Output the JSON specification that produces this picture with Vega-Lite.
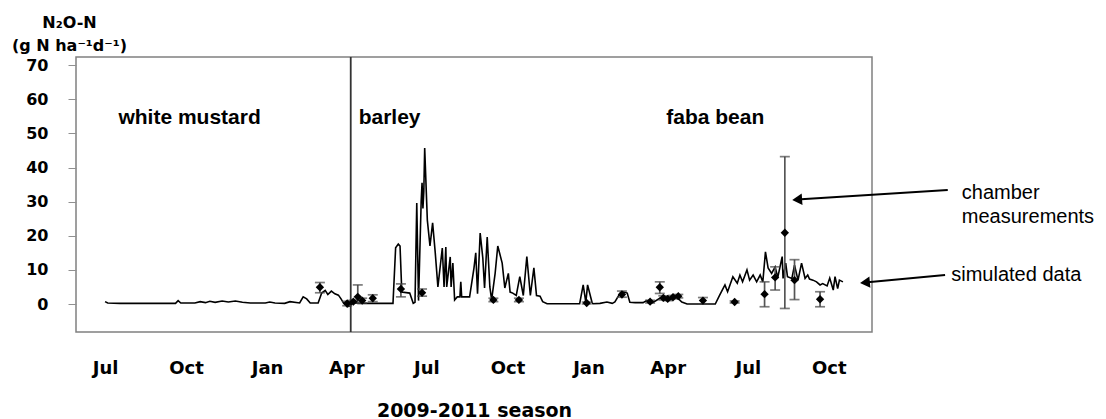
{
  "$schema": "https://vega.github.io/schema/vega-lite/v6.json",
  "width": 796,
  "height": 275,
  "autosize": "none",
  "padding": {"left": 76, "top": 57, "right": 234, "bottom": 87},
  "background": "white",
  "config": {
    "view": {"stroke": "#808080", "strokeWidth": 1.5},
    "font": "Liberation Sans"
  },
  "datasets": {
    "one": [{}],
    "sim": [
      {"date": "2009-07-01", "v": 0.7}, {"date": "2009-07-04", "v": 0.3}, {"date": "2009-07-18", "v": 0.2},
      {"date": "2009-09-19", "v": 0.2}, {"date": "2009-09-22", "v": 1.0}, {"date": "2009-09-25", "v": 0.3},
      {"date": "2009-10-11", "v": 0.3}, {"date": "2009-10-17", "v": 0.7}, {"date": "2009-10-23", "v": 0.4},
      {"date": "2009-10-28", "v": 0.8}, {"date": "2009-11-03", "v": 0.5}, {"date": "2009-11-11", "v": 0.9},
      {"date": "2009-11-18", "v": 0.6}, {"date": "2009-11-26", "v": 0.9}, {"date": "2009-12-04", "v": 0.5},
      {"date": "2009-12-13", "v": 0.3}, {"date": "2009-12-30", "v": 0.3}, {"date": "2010-01-04", "v": 0.6},
      {"date": "2010-01-10", "v": 0.3}, {"date": "2010-01-21", "v": 0.2}, {"date": "2010-01-27", "v": 0.7},
      {"date": "2010-02-07", "v": 0.3}, {"date": "2010-02-11", "v": 2.1}, {"date": "2010-02-15", "v": 1.5},
      {"date": "2010-02-19", "v": 0.3}, {"date": "2010-02-28", "v": 0.3}, {"date": "2010-03-04", "v": 3.2},
      {"date": "2010-03-08", "v": 4.0}, {"date": "2010-03-11", "v": 2.8}, {"date": "2010-03-15", "v": 3.8},
      {"date": "2010-03-19", "v": 3.0}, {"date": "2010-03-23", "v": 2.6}, {"date": "2010-03-26", "v": 1.5},
      {"date": "2010-03-29", "v": 0.2}, {"date": "2010-04-02", "v": -0.8}, {"date": "2010-04-05", "v": -0.5},
      {"date": "2010-04-09", "v": 0.5}, {"date": "2010-04-14", "v": 0.2}, {"date": "2010-05-24", "v": 0.2},
      {"date": "2010-05-27", "v": 16.5}, {"date": "2010-05-30", "v": 17.6}, {"date": "2010-06-01", "v": 17.0},
      {"date": "2010-06-03", "v": 3.5}, {"date": "2010-06-12", "v": 3.2}, {"date": "2010-06-16", "v": 0.2},
      {"date": "2010-06-18", "v": 0.5}, {"date": "2010-06-20", "v": 29.6}, {"date": "2010-06-22", "v": 1.0},
      {"date": "2010-06-25", "v": 30}, {"date": "2010-06-26", "v": 35.5}, {"date": "2010-06-27", "v": 28},
      {"date": "2010-06-28", "v": 33}, {"date": "2010-06-29", "v": 45.7}, {"date": "2010-07-02", "v": 24.6},
      {"date": "2010-07-05", "v": 17}, {"date": "2010-07-08", "v": 23.8}, {"date": "2010-07-11", "v": 15},
      {"date": "2010-07-14", "v": 5}, {"date": "2010-07-19", "v": 16.4}, {"date": "2010-07-21", "v": 5},
      {"date": "2010-07-23", "v": 16.7}, {"date": "2010-07-24", "v": 5}, {"date": "2010-07-28", "v": 13.8},
      {"date": "2010-07-29", "v": 5}, {"date": "2010-07-31", "v": 12}, {"date": "2010-08-02", "v": 1.2},
      {"date": "2010-08-05", "v": 2.1}, {"date": "2010-08-08", "v": 2.1}, {"date": "2010-08-09", "v": 6.5},
      {"date": "2010-08-10", "v": 2.1}, {"date": "2010-08-19", "v": 2.1}, {"date": "2010-08-24", "v": 10.6},
      {"date": "2010-08-26", "v": 15}, {"date": "2010-08-28", "v": 3}, {"date": "2010-08-31", "v": 20.8},
      {"date": "2010-09-03", "v": 13.5}, {"date": "2010-09-05", "v": 4.7}, {"date": "2010-09-08", "v": 19.6},
      {"date": "2010-09-11", "v": 5}, {"date": "2010-09-13", "v": 1.2}, {"date": "2010-09-17", "v": 9},
      {"date": "2010-09-20", "v": 17}, {"date": "2010-09-25", "v": 12}, {"date": "2010-09-28", "v": 4.7},
      {"date": "2010-10-02", "v": 9}, {"date": "2010-10-04", "v": 3.5}, {"date": "2010-10-07", "v": 3.2},
      {"date": "2010-10-11", "v": 2.5}, {"date": "2010-10-15", "v": 8}, {"date": "2010-10-19", "v": 2.5},
      {"date": "2010-10-23", "v": 13.9}, {"date": "2010-10-27", "v": 2.5}, {"date": "2010-10-31", "v": 10.6},
      {"date": "2010-11-03", "v": 2.5}, {"date": "2010-11-07", "v": 2.3}, {"date": "2010-11-10", "v": 0.7},
      {"date": "2010-11-15", "v": 0.1}, {"date": "2010-12-22", "v": 0.1}, {"date": "2010-12-26", "v": 5.6},
      {"date": "2010-12-29", "v": 0.5}, {"date": "2010-12-31", "v": 5.6}, {"date": "2011-01-05", "v": 0.5},
      {"date": "2011-01-06", "v": 0.1}, {"date": "2011-01-14", "v": 0.2}, {"date": "2011-01-22", "v": 0.6},
      {"date": "2011-01-28", "v": 0.2}, {"date": "2011-01-31", "v": 0.6}, {"date": "2011-02-06", "v": 3.2},
      {"date": "2011-02-09", "v": 3.6}, {"date": "2011-02-14", "v": 3.2}, {"date": "2011-02-17", "v": 0.5},
      {"date": "2011-02-23", "v": 0.4}, {"date": "2011-03-04", "v": 0.4}, {"date": "2011-03-08", "v": 1.0},
      {"date": "2011-03-15", "v": 0.4}, {"date": "2011-03-23", "v": 1.7}, {"date": "2011-03-27", "v": 2.1},
      {"date": "2011-04-03", "v": 1.7}, {"date": "2011-04-11", "v": 2.1}, {"date": "2011-04-17", "v": 0.6},
      {"date": "2011-04-23", "v": 0.0}, {"date": "2011-05-25", "v": 0.0}, {"date": "2011-05-30", "v": 2.6},
      {"date": "2011-06-05", "v": 5.6}, {"date": "2011-06-08", "v": 3.6}, {"date": "2011-06-14", "v": 8},
      {"date": "2011-06-19", "v": 6.1}, {"date": "2011-06-22", "v": 8.5}, {"date": "2011-06-25", "v": 6.5},
      {"date": "2011-06-30", "v": 10}, {"date": "2011-07-03", "v": 7}, {"date": "2011-07-07", "v": 8.5},
      {"date": "2011-07-11", "v": 6.5}, {"date": "2011-07-15", "v": 8.5}, {"date": "2011-07-18", "v": 6.5},
      {"date": "2011-07-21", "v": 15.3}, {"date": "2011-07-24", "v": 10.6}, {"date": "2011-07-28", "v": 9},
      {"date": "2011-08-01", "v": 10.9}, {"date": "2011-08-04", "v": 7.8}, {"date": "2011-08-09", "v": 13.9},
      {"date": "2011-08-10", "v": 7.5}, {"date": "2011-08-13", "v": 12}, {"date": "2011-08-15", "v": 8},
      {"date": "2011-08-20", "v": 7.5}, {"date": "2011-08-23", "v": 11.4}, {"date": "2011-08-27", "v": 7},
      {"date": "2011-08-31", "v": 12}, {"date": "2011-09-04", "v": 7.5}, {"date": "2011-09-07", "v": 8.5},
      {"date": "2011-09-09", "v": 7.3}, {"date": "2011-09-13", "v": 7}, {"date": "2011-09-17", "v": 6.5},
      {"date": "2011-09-21", "v": 5.6}, {"date": "2011-09-24", "v": 6}, {"date": "2011-09-29", "v": 5.3},
      {"date": "2011-10-02", "v": 7.6}, {"date": "2011-10-06", "v": 4.1}, {"date": "2011-10-08", "v": 8},
      {"date": "2011-10-11", "v": 4.5}, {"date": "2011-10-13", "v": 7}, {"date": "2011-10-17", "v": 6.5}
    ],
    "meas": [
      {"date": "2010-03-02", "v": 4.9, "lo": 3.3, "hi": 6.3},
      {"date": "2010-04-02", "v": 0.2, "lo": -0.5, "hi": 0.8},
      {"date": "2010-04-09", "v": 0.7, "lo": 0.3, "hi": 1.1},
      {"date": "2010-04-14", "v": 2.1, "lo": 0.3, "hi": 5.6},
      {"date": "2010-04-19", "v": 1.0, "lo": 0.3, "hi": 1.7},
      {"date": "2010-05-01", "v": 1.7, "lo": 0.7, "hi": 2.7},
      {"date": "2010-06-02", "v": 4.4, "lo": 2.1, "hi": 5.9},
      {"date": "2010-06-26", "v": 3.3, "lo": 2.3, "hi": 4.4},
      {"date": "2010-09-15", "v": 1.2, "lo": 0.7, "hi": 1.7},
      {"date": "2010-10-14", "v": 1.2, "lo": 0.7, "hi": 1.7},
      {"date": "2010-12-30", "v": 0.3, "lo": 0.0, "hi": 0.6},
      {"date": "2011-02-08", "v": 2.8, "lo": 2.0, "hi": 3.8},
      {"date": "2011-03-12", "v": 0.7, "lo": 0.3, "hi": 1.1},
      {"date": "2011-03-23", "v": 4.9, "lo": 3.1, "hi": 6.5},
      {"date": "2011-03-27", "v": 1.8, "lo": 1.2, "hi": 2.4},
      {"date": "2011-04-01", "v": 1.5, "lo": 1.0, "hi": 2.0},
      {"date": "2011-04-07", "v": 2.0, "lo": 1.5, "hi": 2.5},
      {"date": "2011-04-13", "v": 2.3, "lo": 1.8, "hi": 2.8},
      {"date": "2011-05-11", "v": 1.0, "lo": 0.0, "hi": 1.9},
      {"date": "2011-06-16", "v": 0.6, "lo": 0.3, "hi": 0.9},
      {"date": "2011-07-20", "v": 2.9, "lo": -0.8, "hi": 6.5},
      {"date": "2011-08-01", "v": 7.8, "lo": 4.1, "hi": 10.9},
      {"date": "2011-08-12", "v": 20.9, "lo": -1.3, "hi": 43.2},
      {"date": "2011-08-23", "v": 7.0, "lo": 1.3, "hi": 13.0},
      {"date": "2011-09-21", "v": 1.4, "lo": -0.8, "hi": 3.6}
    ]
  },
  "encoding": {
    "x": {
      "type": "temporal",
      "scale": {
        "type": "utc",
        "domain": [
          {"year": 2009, "month": 5, "date": 29, "utc": true},
          {"year": 2011, "month": 11, "date": 19, "utc": true}
        ]
      },
      "axis": {
        "title": "2009-2011 season",
        "values": [
          {"year": 2009, "month": 7, "date": 1, "utc": true},
          {"year": 2009, "month": 10, "date": 1, "utc": true},
          {"year": 2010, "month": 1, "date": 1, "utc": true},
          {"year": 2010, "month": 4, "date": 1, "utc": true},
          {"year": 2010, "month": 7, "date": 1, "utc": true},
          {"year": 2010, "month": 10, "date": 1, "utc": true},
          {"year": 2011, "month": 1, "date": 1, "utc": true},
          {"year": 2011, "month": 4, "date": 1, "utc": true},
          {"year": 2011, "month": 7, "date": 1, "utc": true},
          {"year": 2011, "month": 10, "date": 1, "utc": true}
        ],
        "format": "%b",
        "domain": false,
        "ticks": false,
        "grid": false,
        "labelFont": "DejaVu Sans",
        "labelFontWeight": "bold",
        "labelFontSize": 18,
        "labelColor": "black",
        "labelPadding": 27,
        "labelFlush": false,
        "labelOverlap": false,
        "titleFont": "DejaVu Sans",
        "titleFontWeight": "bold",
        "titleFontSize": 19,
        "titleColor": "black",
        "titlePadding": 24
      }
    },
    "y": {
      "type": "quantitative",
      "scale": {"domain": [-8.2, 72.4], "nice": false, "zero": false},
      "axis": {
        "values": [0, 10, 20, 30, 40, 50, 60, 70],
        "domain": false,
        "grid": false,
        "tickColor": "#909090",
        "tickSize": 8,
        "labelFont": "DejaVu Sans",
        "labelFontWeight": "bold",
        "labelFontSize": 16,
        "labelColor": "black",
        "labelPadding": 20,
        "title": ["N₂O-N", "(g N ha⁻¹d⁻¹)"],
        "titleFont": "DejaVu Sans",
        "titleFontWeight": "bold",
        "titleFontSize": 16,
        "titleColor": "black",
        "titleAngle": 0,
        "titleAlign": "center",
        "titleBaseline": "alphabetic",
        "titleLineHeight": 23,
        "titleX": -7,
        "titleY": -30
      }
    }
  },
  "layer": [
    {
      "data": {"name": "one"},
      "mark": {"type": "rule", "color": "#333333", "strokeWidth": 1.8},
      "encoding": {
        "x": {"datum": {"year": 2010, "month": 4, "date": 6, "utc": true}, "type": "temporal"},
        "y": null
      }
    },
    {
      "data": {"name": "sim"},
      "mark": {"type": "line", "color": "black", "strokeWidth": 1.6},
      "encoding": {
        "x": {"field": "date"},
        "y": {"field": "v"}
      }
    },
    {
      "data": {"name": "meas"},
      "mark": {"type": "rule", "color": "#555555", "strokeWidth": 1.7},
      "encoding": {
        "x": {"field": "date"},
        "y": {"field": "lo"},
        "y2": {"field": "hi"}
      }
    },
    {
      "data": {"name": "meas"},
      "mark": {"type": "tick", "orient": "horizontal", "color": "#444444", "size": 10, "thickness": 1.7},
      "encoding": {
        "x": {"field": "date"},
        "y": {"field": "lo"}
      }
    },
    {
      "data": {"name": "meas"},
      "mark": {"type": "tick", "orient": "horizontal", "color": "#444444", "size": 10, "thickness": 1.7},
      "encoding": {
        "x": {"field": "date"},
        "y": {"field": "hi"}
      }
    },
    {
      "data": {"name": "meas"},
      "mark": {"type": "point", "shape": "diamond", "filled": true, "color": "black", "size": 70, "opacity": 1},
      "encoding": {
        "x": {"field": "date"},
        "y": {"field": "v"}
      }
    },
    {
      "data": {"name": "one"},
      "mark": {"type": "text", "text": "white mustard", "font": "Liberation Sans", "fontWeight": "bold", "fontSize": 21, "align": "center", "baseline": "middle", "color": "black"},
      "encoding": {
        "x": {"datum": {"year": 2009, "month": 10, "date": 5, "utc": true}, "type": "temporal"},
        "y": {"datum": 54.5}
      }
    },
    {
      "data": {"name": "one"},
      "mark": {"type": "text", "text": "barley", "font": "Liberation Sans", "fontWeight": "bold", "fontSize": 21, "align": "left", "baseline": "middle", "color": "black"},
      "encoding": {
        "x": {"datum": {"year": 2010, "month": 4, "date": 15, "utc": true}, "type": "temporal"},
        "y": {"datum": 54.5}
      }
    },
    {
      "data": {"name": "one"},
      "mark": {"type": "text", "text": "faba bean", "font": "Liberation Sans", "fontWeight": "bold", "fontSize": 21, "align": "center", "baseline": "middle", "color": "black"},
      "encoding": {
        "x": {"datum": {"year": 2011, "month": 5, "date": 25, "utc": true}, "type": "temporal"},
        "y": {"datum": 54.5}
      }
    },
    {
      "data": {"name": "one"},
      "mark": {"type": "text", "text": ["chamber", "measurements"], "lineHeight": 24, "font": "Liberation Sans", "fontSize": 20, "align": "left", "baseline": "middle", "color": "black"},
      "encoding": {
        "x": {"datum": {"year": 2012, "month": 2, "date": 29, "utc": true}, "type": "temporal"},
        "y": {"datum": 32.5}
      }
    },
    {
      "data": {"name": "one"},
      "mark": {"type": "text", "text": "simulated data", "font": "Liberation Sans", "fontSize": 20, "align": "left", "baseline": "middle", "color": "black"},
      "encoding": {
        "x": {"datum": {"year": 2012, "month": 2, "date": 17, "utc": true}, "type": "temporal"},
        "y": {"datum": 8.5}
      }
    },
    {
      "data": {"name": "one"},
      "mark": {"type": "rule", "color": "black", "strokeWidth": 2},
      "encoding": {
        "x": {"datum": {"year": 2012, "month": 2, "date": 13, "utc": true}, "type": "temporal"},
        "y": {"datum": 33.4},
        "x2": {"datum": {"year": 2011, "month": 8, "date": 26, "utc": true}},
        "y2": {"datum": 30.6}
      }
    },
    {
      "data": {"name": "one"},
      "mark": {"type": "point", "shape": "triangle-left", "filled": true, "color": "black", "size": 130, "opacity": 1, "angle": 356},
      "encoding": {
        "x": {"datum": {"year": 2011, "month": 8, "date": 26, "utc": true}, "type": "temporal"},
        "y": {"datum": 30.6}
      }
    },
    {
      "data": {"name": "one"},
      "mark": {"type": "rule", "color": "black", "strokeWidth": 2},
      "encoding": {
        "x": {"datum": {"year": 2012, "month": 2, "date": 10, "utc": true}, "type": "temporal"},
        "y": {"datum": 8.5},
        "x2": {"datum": {"year": 2011, "month": 11, "date": 11, "utc": true}},
        "y2": {"datum": 6.3}
      }
    },
    {
      "data": {"name": "one"},
      "mark": {"type": "point", "shape": "triangle-left", "filled": true, "color": "black", "size": 130, "opacity": 1, "angle": 355},
      "encoding": {
        "x": {"datum": {"year": 2011, "month": 11, "date": 11, "utc": true}, "type": "temporal"},
        "y": {"datum": 6.3}
      }
    }
  ]
}
